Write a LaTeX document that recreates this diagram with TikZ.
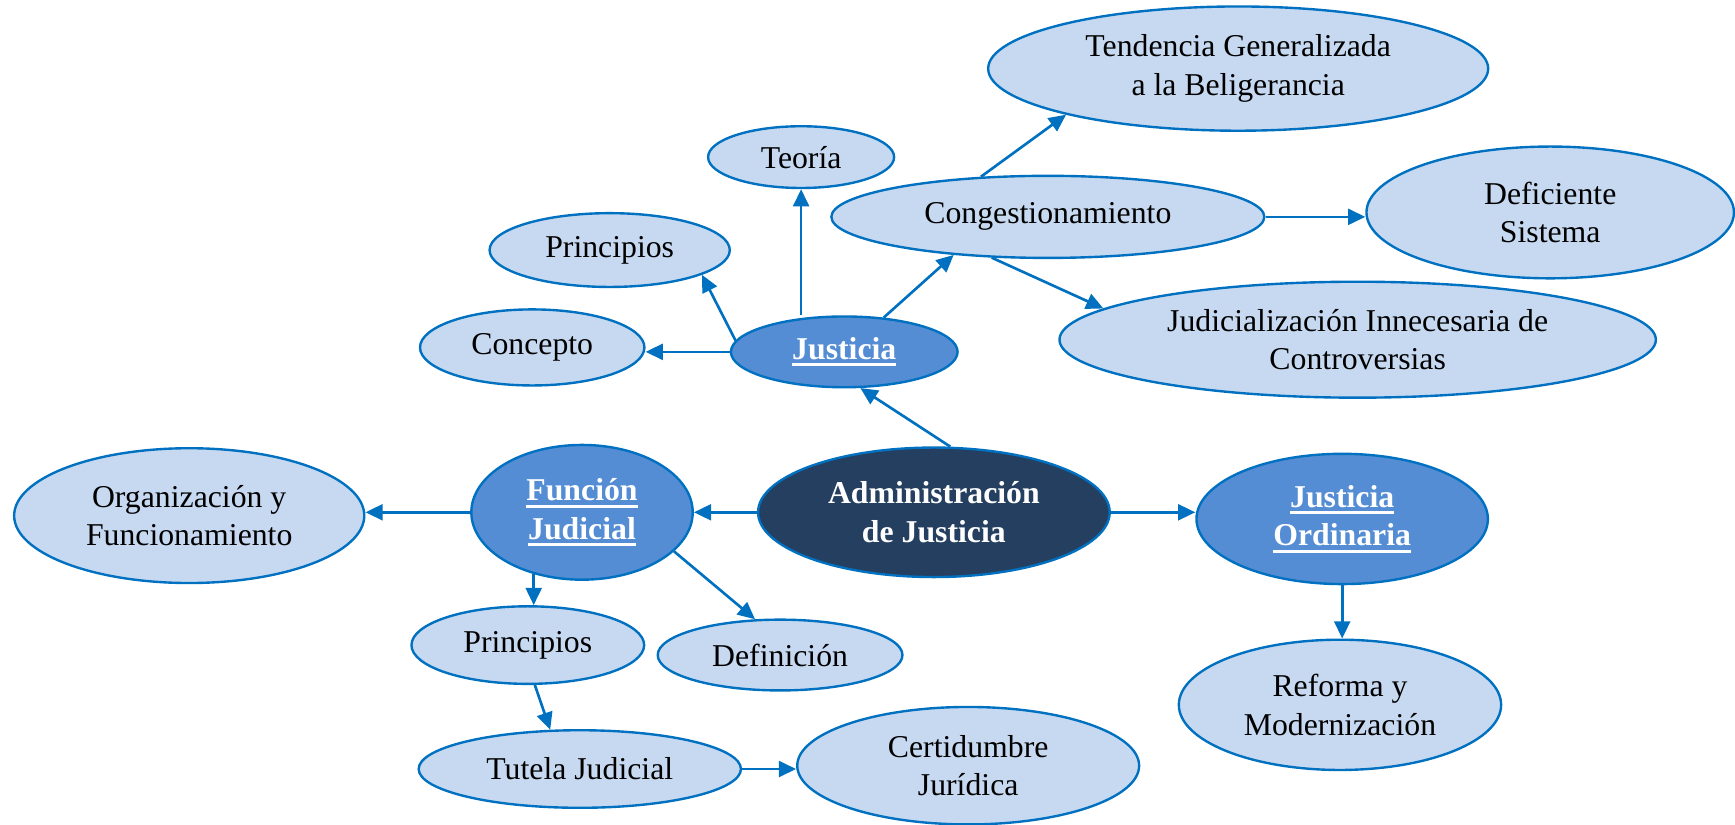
\documentclass[tikz,border=0pt]{standalone}
\usepackage{fontspec}
\setmainfont{Liberation Serif}
\usepackage{xcolor}
\usetikzlibrary{shapes.geometric,arrows.meta,positioning}

\definecolor{lblue}{RGB}{198,217,241}
\definecolor{mblue}{RGB}{84,141,212}
\definecolor{dblue}{RGB}{36,63,96}
\definecolor{eblue}{RGB}{0,112,192}

% thick underline for the white titles
\newcommand{\uword}[1]{\setbox0\hbox{#1}\leavevmode\rlap{\rule[-2.6pt]{\wd0}{1.1pt}}\box0}

\tikzset{
    concept/.style = {ellipse, draw=eblue, line width=0.9pt, fill=lblue, inner sep=0pt,
                      align=center, font=\fontsize{12}{14.5}\selectfont},
    topic/.style = {concept, fill=mblue, text=white, font=\fontsize{12}{14.5}\selectfont\bfseries},
    root/.style = {concept, fill=dblue, text=white, font=\fontsize{12}{14.5}\selectfont\bfseries},
    arr/.style = {draw=eblue, line width=1pt, -{Triangle[length=6.5pt,width=6pt]}}
}

\begin{document}
\begin{tikzpicture}[x=0.0147cm, y=-0.0147cm]
    \useasboundingbox (0,0) rectangle (1568,745.6);

    \node[root, minimum width=4.67cm, minimum height=1.72cm] (nadm) at (844,463) {Administración\\de Justicia};
    \node[topic, minimum width=3.01cm, minimum height=0.94cm] (njus) at (763,318) {\uword{Justicia}};
    \node[topic, minimum width=2.94cm, minimum height=1.79cm] (nfun) at (526,463) {\uword{Función}\\\uword{Judicial}};
    \node[topic, minimum width=3.87cm, minimum height=1.73cm] (nord) at (1213,469) {\uword{Justicia}\\\uword{Ordinaria}};

    \node[concept, minimum width=2.98cm, minimum height=1.01cm] (ncon) at (481,314) {Concepto};
    \node[concept, minimum width=3.19cm, minimum height=0.98cm] (nprin) at (551,226) {Principios};
    \node[concept, minimum width=2.47cm, minimum height=0.82cm] (nteo) at (724,142) {Teoría};
    \node[concept, minimum width=5.75cm, minimum height=1.09cm] (ncong) at (947,196) {Congestionamiento};
    \node[concept, minimum width=6.64cm, minimum height=1.65cm] (ntend) at (1119,62) {Tendencia Generalizada\\a la Beligerancia};
    \node[concept, minimum width=4.88cm, minimum height=1.75cm] (ndef) at (1401,192) {Deficiente\\Sistema};
    \node[concept, minimum width=7.92cm, minimum height=1.54cm] (njud) at (1227,307) {Judicialización Innecesaria de\\Controversias};

    \node[concept, minimum width=4.65cm, minimum height=1.79cm] (norg) at (171,466) {Organización y\\Funcionamiento};
    \node[concept, minimum width=3.09cm, minimum height=1.03cm] (nprj) at (477,583) {Principios};
    \node[concept, minimum width=3.25cm, minimum height=0.94cm] (ndefi) at (705,592) {Definición};
    \node[concept, minimum width=4.28cm, minimum height=1.03cm] (ntut) at (524,695) {Tutela Judicial};
    \node[concept, minimum width=4.54cm, minimum height=1.56cm] (ncert) at (875,692) {Certidumbre\\Jurídica};
    \node[concept, minimum width=4.28cm, minimum height=1.73cm] (nref) at (1211,637) {Reforma y\\Modernización};

    % Justicia
    \draw[arr] (nadm.76) -- (njus.-66);
    \draw[arr] (njus.west) -- (njus.west -| ncon.east);
    \draw[arr] (njus.174) -- (nprin.-15);
    \draw[arr] (nteo.south |- njus.north) -- (nteo.south);
    \draw[arr] (njus.41) -- (ncong.202);
    \draw[arr] (ncong.149.5) -- (ntend.195);
    \draw[arr] (ncong.east) -- (ncong.east -| ndef.west);
    \draw[arr] (ncong.216) -- (njud.173.6);

    % Funcion Judicial
    \draw[arr] (nadm.west) -- (nfun.east);
    \draw[arr] (nfun.west) -- (nfun.west -| norg.east);
    \draw[arr] (nfun.232) -- (nfun.232 |- nprj.north);
    \draw[arr] (nfun.-23) -- (ndefi.125);
    \draw[arr] (nprj.-80) -- (ntut.127);
    \draw[arr] (ntut.east) -- (ntut.east -| ncert.west);

    % Justicia Ordinaria
    \draw[arr] (nadm.east) -- (nadm.east -| nord.west);
    \draw[arr] (nord.south) -- (nord.south |- nref.north);
\end{tikzpicture}
\end{document}
